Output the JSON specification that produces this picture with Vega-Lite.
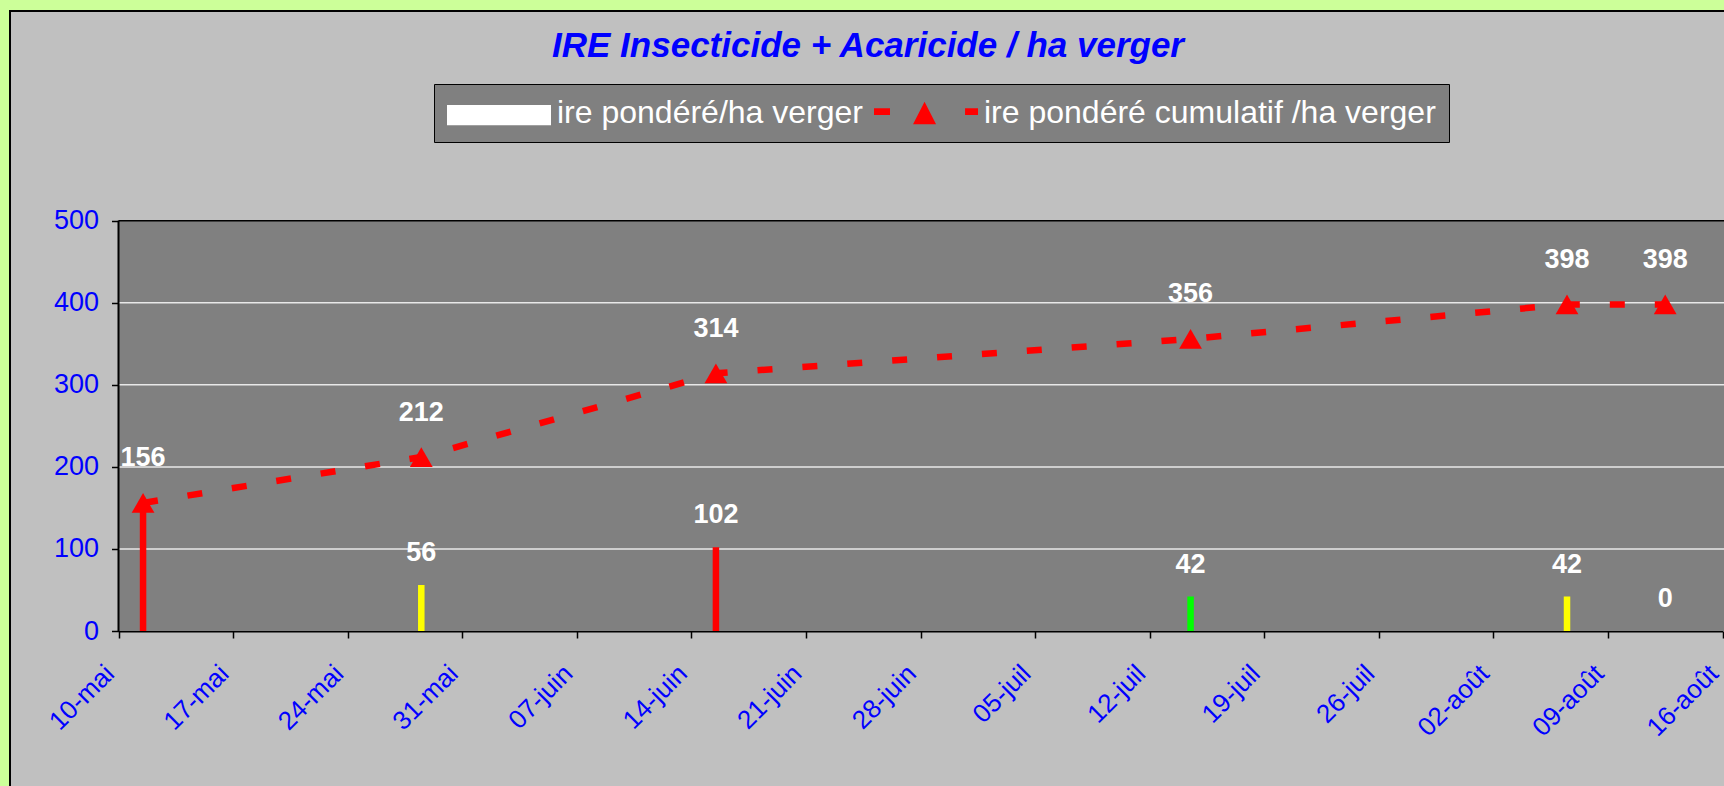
{
  "$schema": "https://vega.github.io/schema/vega-lite/v6.json",
  "width": 1716,
  "height": 777,
  "autosize": {"type": "none"},
  "padding": {"left": 10, "top": 11, "right": -2, "bottom": -2},
  "background": "#CCFF99",
  "config": {
    "view": {"fill": "#C0C0C0", "stroke": "#000000", "strokeWidth": 2},
    "font": "Liberation Sans"
  },
  "title": {
    "text": "IRE Insecticide + Acaricide / ha verger",
    "font": "Liberation Sans",
    "fontSize": 35,
    "fontWeight": "bold",
    "fontStyle": "italic",
    "color": "#0000FF",
    "anchor": "middle",
    "frame": "group",
    "offset": -81,
    "baseline": "alphabetic"
  },
  "datasets": {
    "ire": [
      {"date": "2009-05-11", "ire": 156, "cumul": 156, "niveau": "fort"},
      {"date": "2009-05-28", "ire": 56, "cumul": 212, "niveau": "moyen"},
      {"date": "2009-06-15", "ire": 102, "cumul": 314, "niveau": "fort"},
      {"date": "2009-07-14", "ire": 42, "cumul": 356, "niveau": "faible"},
      {"date": "2009-08-06", "ire": 42, "cumul": 398, "niveau": "moyen"},
      {"date": "2009-08-12", "ire": 0, "cumul": 398, "niveau": "faible"}
    ],
    "grille": [{"g": 100}, {"g": 200}, {"g": 300}, {"g": 400}]
  },
  "data": {"name": "ire"},
  "layer": [
    {
      "data": {"values": [{}]},
      "mark": {"type": "rect", "fill": "#808080"},
      "encoding": {
        "x": {
          "datum": {"year": 2009, "month": 5, "date": 10, "utc": true},
          "type": "temporal",
          "title": null,
          "scale": {
            "type": "utc",
            "domain": [
              {"year": 2009, "month": 5, "date": 10, "utc": true},
              {"year": 2009, "month": 8, "date": 16, "utc": true}
            ],
            "range": [108.5, 1712.5]
          },
          "axis": {
            "orient": "bottom",
            "offset": -157,
            "title": null,
            "grid": false,
            "values": [
              {"year": 2009, "month": 5, "date": 10, "utc": true},
              {"year": 2009, "month": 5, "date": 17, "utc": true},
              {"year": 2009, "month": 5, "date": 24, "utc": true},
              {"year": 2009, "month": 5, "date": 31, "utc": true},
              {"year": 2009, "month": 6, "date": 7, "utc": true},
              {"year": 2009, "month": 6, "date": 14, "utc": true},
              {"year": 2009, "month": 6, "date": 21, "utc": true},
              {"year": 2009, "month": 6, "date": 28, "utc": true},
              {"year": 2009, "month": 7, "date": 5, "utc": true},
              {"year": 2009, "month": 7, "date": 12, "utc": true},
              {"year": 2009, "month": 7, "date": 19, "utc": true},
              {"year": 2009, "month": 7, "date": 26, "utc": true},
              {"year": 2009, "month": 8, "date": 2, "utc": true},
              {"year": 2009, "month": 8, "date": 9, "utc": true},
              {"year": 2009, "month": 8, "date": 16, "utc": true}
            ],
            "labelExpr": "utcFormat(datum.value, '%d') + '-' + ['janv','févr','mars','avr','mai','juin','juil','août','sept','oct','nov','déc'][utcmonth(datum.value)]",
            "labelAngle": -45,
            "labelAlign": "right",
            "labelBaseline": "top",
            "labelFont": "Liberation Sans",
            "labelFontSize": 26,
            "labelColor": "#0000FF",
            "labelPadding": 22,
            "labelOffset": -18,
            "labelOverlap": false,
            "labelFlush": false,
            "labelBound": false,
            "tickColor": "#000000",
            "tickSize": 7,
            "tickWidth": 1.5,
            "domainColor": "#000000",
            "domainWidth": 2
          }
        },
        "x2": {"datum": {"year": 2009, "month": 8, "date": 17, "utc": true}},
        "y": {
          "datum": 0,
          "type": "quantitative",
          "title": null,
          "scale": {"domain": [0, 500], "range": [620, 209.7], "nice": false, "zero": false},
          "axis": {
            "orient": "left",
            "offset": -108.5,
            "title": null,
            "grid": false,
            "domain": false,
            "values": [0, 100, 200, 300, 400, 500],
            "labelFont": "Liberation Sans",
            "labelFontSize": 27,
            "labelColor": "#0000FF",
            "labelPadding": 13,
            "labelFlush": false,
            "tickColor": "#000000",
            "tickSize": 7,
            "tickWidth": 1.5
          }
        },
        "y2": {"datum": 500}
      }
    },
    {
      "data": {"name": "grille"},
      "mark": {"type": "rule", "color": "#E8E8E8", "strokeWidth": 1.5},
      "encoding": {
        "x": {"datum": {"year": 2009, "month": 5, "date": 10, "utc": true}, "type": "temporal", "title": null},
        "x2": {"datum": {"year": 2009, "month": 8, "date": 17, "utc": true}},
        "y": {"field": "g", "type": "quantitative", "title": null}
      }
    },
    {
      "data": {"values": [{}]},
      "mark": {"type": "rule", "color": "#000000", "strokeWidth": 1.5},
      "encoding": {
        "x": {"datum": {"year": 2009, "month": 5, "date": 10, "utc": true}, "type": "temporal", "title": null},
        "x2": {"datum": {"year": 2009, "month": 8, "date": 17, "utc": true}},
        "y": {"datum": 500, "type": "quantitative", "title": null}
      }
    },
    {
      "data": {"values": [{}]},
      "mark": {"type": "rule", "color": "#000000", "strokeWidth": 2},
      "encoding": {
        "x": {"datum": {"year": 2009, "month": 5, "date": 10, "utc": true}, "type": "temporal", "title": null},
        "y": {"datum": 0, "type": "quantitative", "title": null},
        "y2": {"datum": 500}
      }
    },
    {
      "mark": {"type": "rule", "strokeWidth": 6.5, "strokeCap": "butt"},
      "encoding": {
        "x": {"field": "date", "type": "temporal", "timeUnit": "utcyearmonthdate", "bandPosition": 0.5, "title": null},
        "y": {"field": "ire", "type": "quantitative", "title": null},
        "y2": {"datum": 0},
        "color": {
          "field": "niveau",
          "type": "nominal",
          "scale": {"domain": ["fort", "moyen", "faible"], "range": ["#FF0000", "#FFFF00", "#00FF00"]},
          "legend": null
        },
        "strokeDash": {
          "datum": "ire pondéré/ha verger",
          "type": "nominal",
          "scale": {
            "domain": ["ire pondéré/ha verger", "ire pondéré cumulatif /ha verger"],
            "range": [[1, 0], [15, 30]]
          },
          "legend": {
            "title": null,
            "orient": "none",
            "legendX": 424,
            "legendY": 73,
            "direction": "horizontal",
            "fillColor": "#808080",
            "strokeColor": "#000000",
            "padding": 13,
            "labelFont": "Liberation Sans",
            "labelFontSize": 32,
            "labelColor": "#FFFFFF",
            "labelOffset": 78,
            "labelLimit": 0,
            "symbolSize": 1024,
            "columnPadding": 11,
            "encode": {
              "symbols": {
                "update": {
                  "shape": {"signal": "indexof(datum.value, 'cumulatif') >= 0 ? 'M-1,-0.29H0V0.13H-1Z M1.44,0.71L2.16,-0.71L2.88,0.71Z M4.69,-0.29H5.5V0.13H4.69Z' : 'M-1,-0.5H5.5V0.77H-1Z'"},
                  "fill": {"signal": "indexof(datum.value, 'cumulatif') >= 0 ? '#FF0000' : '#FFFFFF'"},
                  "stroke": {"value": "transparent"},
                  "strokeWidth": {"value": 0},
                  "opacity": {"value": 1}
                }
              }
            }
          }
        }
      }
    },
    {
      "mark": {"type": "line", "color": "#FF0000", "strokeWidth": 6.5, "strokeCap": "butt"},
      "encoding": {
        "x": {"field": "date", "type": "temporal", "timeUnit": "utcyearmonthdate", "bandPosition": 0.5, "title": null},
        "y": {"field": "cumul", "type": "quantitative", "title": null},
        "strokeDash": {"datum": "ire pondéré cumulatif /ha verger", "type": "nominal"}
      }
    },
    {
      "mark": {"type": "point", "shape": "triangle-up", "filled": true, "color": "#FF0000", "size": 520, "opacity": 1},
      "encoding": {
        "x": {"field": "date", "type": "temporal", "timeUnit": "utcyearmonthdate", "bandPosition": 0.5, "title": null},
        "y": {"field": "cumul", "type": "quantitative", "title": null}
      }
    },
    {
      "mark": {"type": "text", "font": "Liberation Sans", "fontSize": 27, "fontWeight": "bold", "color": "#FFFFFF", "baseline": "alphabetic", "dy": -36.5},
      "encoding": {
        "x": {"field": "date", "type": "temporal", "timeUnit": "utcyearmonthdate", "bandPosition": 0.5, "title": null},
        "y": {"field": "cumul", "type": "quantitative", "title": null},
        "text": {"field": "cumul", "type": "quantitative"}
      }
    },
    {
      "transform": [{"filter": "datum.ire != datum.cumul"}],
      "mark": {"type": "text", "font": "Liberation Sans", "fontSize": 27, "fontWeight": "bold", "color": "#FFFFFF", "baseline": "alphabetic", "dy": -24},
      "encoding": {
        "x": {"field": "date", "type": "temporal", "timeUnit": "utcyearmonthdate", "bandPosition": 0.5, "title": null},
        "y": {"field": "ire", "type": "quantitative", "title": null},
        "text": {"field": "ire", "type": "quantitative"}
      }
    }
  ]
}
